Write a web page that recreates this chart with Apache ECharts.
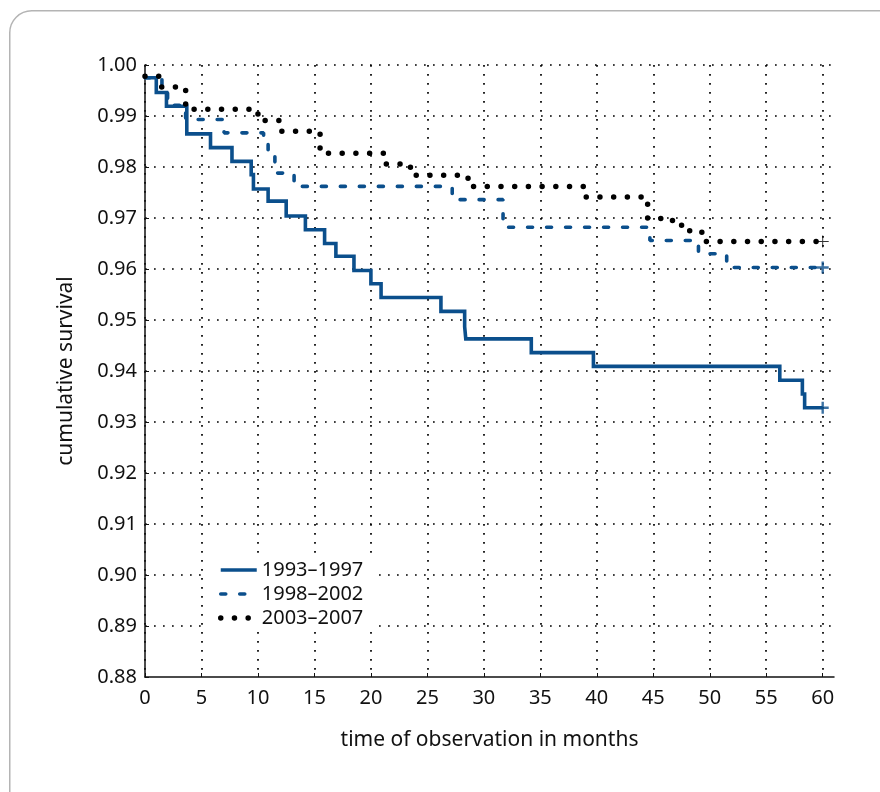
<!DOCTYPE html>
<html>
<head>
<meta charset="utf-8">
<script src="https://cdn.jsdelivr.net/npm/echarts@6/dist/echarts.min.js"></script>
<style>
html,body{margin:0;padding:0;background:#fff;}
#chart{width:880px;height:792px;}
</style>
</head>
<body>
<div id="chart"></div>
<script>
// ---- data ----
const seriesNames = ['1993\u20131997', '1998\u20132002', '2003\u20132007'];

const t1993 = [0, 1.0, 1.9, 3.7, 5.8, 7.7, 9.4, 9.6, 10.9, 12.5, 14.2, 15.9, 16.9, 18.5, 20.0, 20.9, 26.2, 28.3, 28.4, 34.2, 39.7, 56.2, 58.2, 58.4, 60];
const s1993 = [0.9975, 0.9946, 0.9919, 0.9865, 0.9838, 0.9811, 0.9785, 0.9757, 0.9733, 0.9704, 0.9677, 0.9650, 0.9625, 0.9597, 0.9571, 0.9544, 0.9517, 0.9487, 0.9463, 0.9436, 0.9409, 0.9382, 0.9355, 0.9328, 0.9328];

const t1998 = [0, 1.5, 2.0, 3.6, 7.0, 10.5, 10.9, 11.5, 13.2, 27.2, 31.7, 44.7, 49.0, 51.5, 60];
const s1998 = [0.9975, 0.9948, 0.9921, 0.9893, 0.9867, 0.9847, 0.9821, 0.9788, 0.9762, 0.9736, 0.9682, 0.9656, 0.9630, 0.9603, 0.9603];

const t2003 = [0, 1.3, 3.6, 10.0, 11.9, 15.5, 21.2, 23.5, 28.6, 39.0, 44.5, 46.7, 47.6, 49.3, 60];
const s2003 = [0.9978, 0.9957, 0.9913, 0.9891, 0.9870, 0.9827, 0.9806, 0.9784, 0.9762, 0.9741, 0.9699, 0.9686, 0.9675, 0.9654, 0.9654];

const xTicks = [0, 5, 10, 15, 20, 25, 30, 35, 40, 45, 50, 55, 60];
const yTicks = [0.88, 0.89, 0.90, 0.91, 0.92, 0.93, 0.94, 0.95, 0.96, 0.97, 0.98, 0.99, 1.00];

// ---- chart ----
const FONT = 'Noto Sans';
const BLUE = '#0b4f8c';
const TXT = '#111';
const pairs = (t, s) => t.map((v, i) => [v, s[i]]);
const last = (t, s) => [[t[t.length - 1], s[s.length - 1]]];
const PLUS = 'path://M4,0h2v4h4v2h-4v4h-2v-4h-4v-2h4z';
const THIN_PLUS = 'path://M4.6,0h0.8v4.6h4.6v0.8h-4.6v4.6h-0.8v-4.6h-4.6v-0.8h4.6z';

const chart = echarts.init(document.getElementById('chart'), null, {renderer: 'canvas'});
chart.setOption({
  backgroundColor: '#fff',
  animation: false,
  textStyle: {fontFamily: FONT},
  graphic: [{
    type: 'rect', left: 9, top: 10, z: -10,
    shape: {width: 900, height: 820, r: 22},
    style: {fill: '#fff', stroke: '#b4b4b4', lineWidth: 1.5}
  }],
  grid: {left: 145, right: 46, top: 65, bottom: 115},
  legend: {
    data: seriesNames,
    orient: 'vertical',
    left: 208, top: 556,
    backgroundColor: '#fff',
    padding: [4, 14, 4, 10],
    itemWidth: 36, itemHeight: 14, itemGap: 4,
    itemStyle: {opacity: 0},
    lineStyle: {width: 'inherit'},
    textStyle: {fontFamily: FONT, fontSize: 20, color: TXT}
  },
  xAxis: {
    type: 'value', min: 0, max: 61, interval: 5,
    name: 'time of observation in months',
    nameLocation: 'middle', nameGap: 53,
    nameTextStyle: {fontFamily: FONT, fontSize: 21, color: TXT},
    axisLine: {show: true, onZero: false, lineStyle: {color: TXT, width: 1.5}},
    axisTick: {show: true, inside: true, length: 4, lineStyle: {color: TXT}},
    axisLabel: {
      fontFamily: FONT, fontSize: 20, color: TXT, margin: 11, showMaxLabel: false,
      formatter: v => xTicks.indexOf(v) >= 0 ? String(v) : ''
    },
    splitLine: {show: true, showMaxLine: false, lineStyle: {color: '#000', width: 1.7, type: [1.7, 7.3]}}
  },
  yAxis: {
    type: 'value', min: 0.88, max: 1.00, interval: 0.01,
    name: 'cumulative survival',
    nameLocation: 'middle', nameGap: 68, nameRotate: 90,
    nameTextStyle: {fontFamily: FONT, fontSize: 21, color: TXT},
    axisLine: {show: true, onZero: false, lineStyle: {color: TXT, width: 1.5}},
    axisTick: {show: true, inside: true, length: 4, lineStyle: {color: TXT}},
    axisLabel: {
      fontFamily: FONT, fontSize: 20, color: TXT, margin: 8,
      formatter: v => {
        const k = yTicks.findIndex(y => Math.abs(y - v) < 1e-6);
        return k >= 0 ? yTicks[k].toFixed(2) : '';
      }
    },
    splitLine: {show: true, showMinLine: false, lineStyle: {color: '#000', width: 1.7, type: [1.7, 7.3]}}
  },
  series: [
    {
      name: seriesNames[0], type: 'line', step: 'end', symbol: 'none', z: 4,
      data: pairs(t1993, s1993),
      itemStyle: {color: BLUE},
      lineStyle: {color: BLUE, width: 3.6, join: 'miter'}
    },
    {
      name: seriesNames[1], type: 'line', step: 'end', symbol: 'none', z: 3,
      data: pairs(t1998, s1998),
      itemStyle: {color: BLUE},
      lineStyle: {color: BLUE, width: 3.6, type: [5, 14], cap: 'round'}
    },
    {
      name: seriesNames[2], type: 'line', step: 'end', symbol: 'none', z: 5,
      data: pairs(t2003, s2003),
      itemStyle: {color: '#000'},
      lineStyle: {color: '#000', width: 5.5, type: [0.01, 13.7], cap: 'round'}
    },
    {
      type: 'scatter', symbol: PLUS, symbolSize: 12, z: 6, silent: true,
      data: last(t1993, s1993), itemStyle: {color: BLUE}
    },
    {
      type: 'scatter', symbol: PLUS, symbolSize: 12, z: 6, silent: true,
      data: last(t1998, s1998), itemStyle: {color: BLUE}
    },
    {
      type: 'scatter', symbol: THIN_PLUS, symbolSize: 12, z: 6, silent: true,
      data: last(t2003, s2003), itemStyle: {color: '#000'}
    }
  ]
});
</script>
</body>
</html>
